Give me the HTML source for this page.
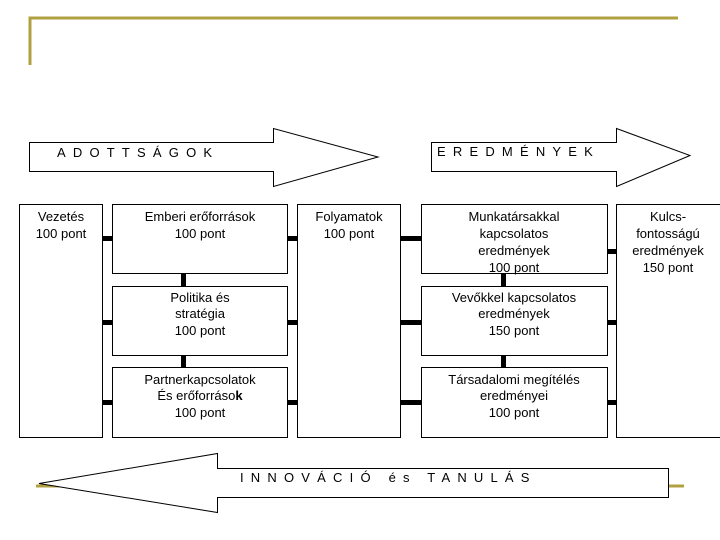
<!DOCTYPE html>
<html><head><meta charset="utf-8"><style>
html,body{margin:0;padding:0;background:#fff;}
svg{display:block;}
text{font-family:"Liberation Sans",Arial,sans-serif;font-size:13px;fill:#000;}
.t{text-anchor:middle;}
.ls{letter-spacing:7.2px;}
</style></head><body>
<svg width="720" height="540" viewBox="0 0 720 540" xmlns="http://www.w3.org/2000/svg">
<g stroke="#b0a040" stroke-width="3" fill="none">
<path d="M30 65 V18 H678"/>
<path d="M36 486 H60"/>
<path d="M668 486 H684"/>
</g>
<g stroke="#000" stroke-width="1" fill="#fff">
<path d="M29.5 142.5 H273.5 V128.5 L378 157 L273.5 186.5 V171.5 H29.5 Z"/>
<path d="M431.5 142.5 H616.5 V128.5 L690 155.5 L616.5 186.5 V171.5 H431.5 Z"/>
<path d="M668.5 468.5 H217.5 V453.5 L39 483.5 L217.5 512.5 V497.5 H668.5 Z"/>
<rect x="19.5" y="204.5" width="83" height="233"/>
<rect x="112.5" y="204.5" width="175" height="69"/>
<rect x="112.5" y="286.5" width="175" height="69"/>
<rect x="112.5" y="367.5" width="175" height="70"/>
<rect x="297.5" y="204.5" width="103" height="233"/>
<rect x="421.5" y="204.5" width="186" height="69"/>
<rect x="421.5" y="286.5" width="186" height="69"/>
<rect x="421.5" y="367.5" width="186" height="70"/>
<rect x="616.5" y="204.5" width="110" height="233"/>
</g>
<g fill="#000">
<rect x="103" y="236" width="9" height="5"/>
<rect x="288" y="236" width="9" height="5"/>
<rect x="401" y="236" width="20" height="5"/>
<rect x="608" y="249" width="8" height="5"/>
<rect x="181" y="274" width="5" height="12"/>
<rect x="501" y="274" width="5" height="12"/>
<rect x="103" y="320" width="9" height="5"/>
<rect x="288" y="320" width="9" height="5"/>
<rect x="401" y="320" width="20" height="5"/>
<rect x="608" y="320" width="8" height="5"/>
<rect x="181" y="356" width="5" height="11"/>
<rect x="501" y="356" width="5" height="11"/>
<rect x="103" y="400" width="9" height="5"/>
<rect x="288" y="400" width="9" height="5"/>
<rect x="401" y="400" width="20" height="5"/>
<rect x="608" y="400" width="8" height="5"/>
</g>
<text x="57" y="157" class="ls">ADOTTSÁGOK</text>
<text x="437" y="156" class="ls">EREDMÉNYEK</text>
<text x="240" y="482" class="ls">INNOVÁCIÓ és TANULÁS</text>
<text class="t" x="61" y="221">Vezetés</text>
<text class="t" x="61" y="238">100 pont</text>
<text class="t" x="200" y="221">Emberi erőforrások</text>
<text class="t" x="200" y="238">100 pont</text>
<text class="t" x="200" y="302">Politika és</text>
<text class="t" x="200" y="318">stratégia</text>
<text class="t" x="200" y="335">100 pont</text>
<text class="t" x="200" y="384">Partnerkapcsolatok</text>
<text class="t" x="200" y="400">És erőforráso<tspan font-weight="bold">k</tspan></text>
<text class="t" x="200" y="417">100 pont</text>
<text class="t" x="349" y="221">Folyamatok</text>
<text class="t" x="349" y="238">100 pont</text>
<text class="t" x="514" y="221">Munkatársakkal</text>
<text class="t" x="514" y="238">kapcsolatos</text>
<text class="t" x="514" y="255">eredmények</text>
<text class="t" x="514" y="272">100 pont</text>
<text class="t" x="514" y="302">Vevőkkel kapcsolatos</text>
<text class="t" x="514" y="318">eredmények</text>
<text class="t" x="514" y="335">150 pont</text>
<text class="t" x="514" y="384">Társadalomi megítélés</text>
<text class="t" x="514" y="400">eredményei</text>
<text class="t" x="514" y="417">100 pont</text>
<text class="t" x="668" y="221">Kulcs-</text>
<text class="t" x="668" y="238">fontosságú</text>
<text class="t" x="668" y="255">eredmények</text>
<text class="t" x="668" y="272">150 pont</text>
</svg>
</body></html>
